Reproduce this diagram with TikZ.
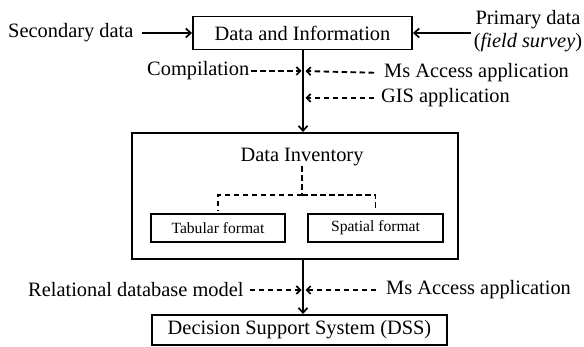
\documentclass[tikz,border=0pt]{standalone}
\usepackage{fontspec}
\setmainfont{Liberation Serif}
\usetikzlibrary{arrows.meta}
\begin{document}
\begin{tikzpicture}[x=1pt,y=-1pt,
  big/.style={font=\fontsize{20.4}{23.5}\selectfont},
  small/.style={font=\fontsize{15.6}{18}\selectfont},
  lbl/.style={big,inner sep=0pt},
  boxnode/.style={draw,line width=1.9pt,inner sep=0pt},
  solidarrow/.style={line width=1.8pt,-{Straight Barb[length=5pt,width=9pt,line width=1.7pt]}},
  dasharrow/.style={line width=1.9pt,dash pattern=on 5.5pt off 3.5pt,-{Straight Barb[length=4pt,width=8pt,line width=1.7pt]}},
  dashline/.style={line width=1.9pt,dash pattern=on 5.5pt off 3.5pt}]
\useasboundingbox (0,0) rectangle (584,347);
% boxes
\node[boxnode,big,minimum width=219pt,minimum height=33pt] (dai) at (302.5,33) {Data and Information};
\node[boxnode,minimum width=326pt,minimum height=126pt] (inv) at (295,196) {};
\node[lbl] (invt) at (302,157) {Data Inventory};
\node[boxnode,small,minimum width=134pt,minimum height=28pt] (tab) at (218,228) {Tabular format};
\node[boxnode,small,minimum width=135pt,minimum height=28pt] (spa) at (375.5,228) {Spatial format};
\node[boxnode,big,minimum width=295pt,minimum height=30pt] (dss) at (299.5,330) {Decision Support System (DSS)};
% labels
\node[lbl,anchor=west] (sec) at (8,33) {Secondary data};
\node[lbl,align=center] (prim) at (528,31) {Primary data\\(\textit{field survey})};
\node[lbl,anchor=west] (comp) at (147,71) {Compilation};
\node[lbl,anchor=west] (msa) at (384,73) {Ms Access application};
\node[lbl,anchor=west] (gis) at (381,98) {GIS application};
\node[lbl,anchor=west] (rel) at (28,290) {Relational database model};
\node[lbl,anchor=west] (msb) at (386,290) {Ms Access application};
% junction coordinates on the main line
\coordinate (j1) at (303,71);
\coordinate (j2) at (303,98);
\coordinate (j3) at (303,290);
% solid arrows
\draw[solidarrow,shorten <=8pt] (sec.east) -- (dai.west);
\draw[solidarrow] (471,33) coordinate (pa) (pa) -- (dai.east);
\draw[solidarrow] (dai.south -| j1) -- (inv.north -| j1);
\draw[solidarrow] (inv.south -| j3) -- (dss.north -| j3);
% dashed arrows
\draw[dasharrow,shorten <=2pt,shorten >=1.5pt] (comp.east) -- (j1);
\draw[dasharrow,shorten <=10pt,shorten >=2.5pt] (msa.west) -- (j1);
\draw[dasharrow,shorten <=7pt,shorten >=2.5pt] (gis.west) -- (j2);
\draw[dasharrow,shorten <=6pt,shorten >=1.5pt] (rel.east) -- (j3);
\draw[dasharrow,shorten <=10pt,shorten >=2.5pt] (msb.west) -- (j3);
% inventory tree
\draw[dashline] (invt.south) -- (302,195) coordinate (tj);
\draw[dashline,shorten >=3pt] (tj) -| (tab.north);
\draw[dashline,shorten >=3pt] (tj) -| (spa.north);
\end{tikzpicture}
\end{document}
